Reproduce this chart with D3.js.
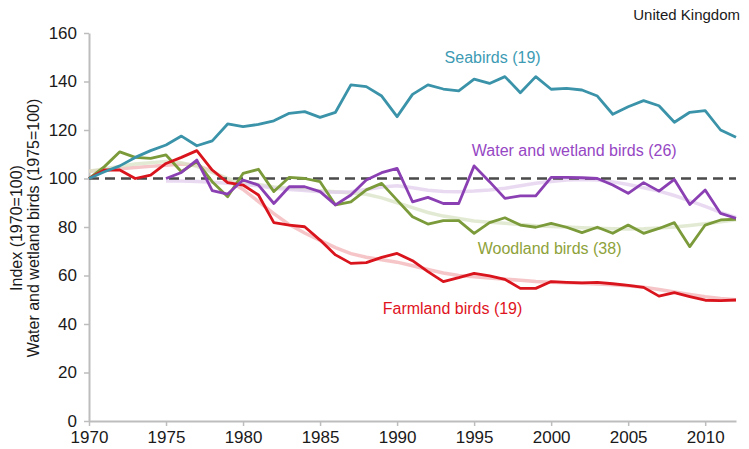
<!DOCTYPE html>
<html><head><meta charset="utf-8">
<script src="https://cdn.jsdelivr.net/npm/d3@7"></script>
<style>body{margin:0;background:#fff;font-family:"Liberation Sans",Arial,sans-serif}</style>
</head><body>
<svg id="c" width="749" height="449"></svg>
<script>
const years = d3.range(1970, 2013);
const seabirds = [100,102.8,105.2,108.7,111.5,113.8,117.5,113.5,115.5,122.5,121.4,122.3,123.8,126.9,127.6,125.2,127.3,138.6,137.9,134,125.5,134.7,138.6,136.9,136.1,141,139.2,142,135.4,142,136.8,137.2,136.5,134,126.5,129.6,132.1,130,123.2,127.3,128,120,117];
const farmland = [100,103.5,103.5,100,101.4,106.2,108.7,111.5,103.5,98.3,97.3,93.2,81.8,80.8,80.1,74.6,68.5,65,65.3,67.5,69.1,66.1,61.6,57.5,59.1,60.9,59.8,58.4,54.7,54.7,57.5,57.2,57,57.2,56.6,55.9,55.1,51.5,52.9,51.3,49.8,49.6,49.9];
const woodland = [100,104.9,111,108.7,108.3,109.7,102.8,107,98.7,92.5,102.1,103.8,94.6,100.5,100,98.7,89.1,90.4,95.3,98,91.1,84.2,81.2,82.6,82.6,77.4,81.8,83.8,80.8,79.9,81.5,79.9,77.7,79.9,77.4,80.8,77.4,79.4,81.8,71.9,80.8,82.9,83.2];
const wetland = [null,null,null,null,null,100,102.5,107.6,95,93.6,99.4,97.3,89.7,96.6,96.6,94.6,89.1,93.2,99.4,102.4,104.2,90.4,92.2,89.7,89.7,105.2,98.7,91.8,92.8,92.8,100.5,100.5,100.3,100,97.3,93.9,98.3,94.8,99.6,89.3,95.3,85.6,83.6];
const farmlandTrend = [103,103.5,104,104.5,105,105.5,106,105.5,103,99.5,95.5,90.5,85.5,81,77.5,74.5,71.5,69,67.5,66.5,65.5,64,62.5,61,60,59.5,59,58.5,58,57.5,57.2,57,56.8,56.5,56.2,55.8,55.2,54.2,53.2,52.2,51.2,50.5,50];
const woodlandTrend = [103,104,105,106,106.5,107,106.5,105,102.5,100,98.5,97.5,96.5,96,95.5,95,94.5,94,93.5,92,90,88,86,84.5,83.5,82.5,82,81.5,81,80.5,80.2,80,79.7,79.5,79.3,79.2,79.3,79.6,80,80.6,81.3,82.2,83];
const wetlandTrend = [null,null,null,null,null,99,99,98.8,98.5,98,97.5,97,96,95.5,95,94.5,94.3,94.5,95.5,96.5,97,96.2,95.2,94.6,94.5,94.8,95.3,96,97,98,98.8,99.4,99.6,99.4,98.6,97.5,96.2,94.8,93,90.8,88.5,86,84];
const yTicks = [0,20,40,60,80,100,120,140,160];
const xTicks = [1970,1975,1980,1985,1990,1995,2000,2005,2010];
const labels = [
  {text:"Seabirds (19)", year:1996.2, value:147.8, color:"#3d9bb4"},
  {text:"Water and wetland birds (26)", year:2001.5, value:109.3, color:"#9647c4"},
  {text:"Woodland birds (38)", year:1999.9, value:69.0, color:"#8ea23a"},
  {text:"Farmland birds (19)", year:1993.6, value:44.3, color:"#e0141e"}
];

const svg = d3.select("#c");
const x = d3.scaleLinear().domain([1970, 2012]).range([89, 736]);
const y = d3.scaleLinear().domain([0, 160]).range([421, 33]);

// axes
const xAxis = svg.append("g").attr("transform","translate(0,421)")
  .call(d3.axisBottom(x).tickValues(xTicks).tickFormat(d3.format("d")).tickSize(5).tickSizeOuter(0));
const yAxis = svg.append("g").attr("transform","translate(89,0)")
  .call(d3.axisLeft(y).tickValues(yTicks).tickSize(5).tickSizeOuter(0));
[xAxis,yAxis].forEach(g=>{
  g.select(".domain").attr("stroke","#bdbdbd").attr("stroke-width",2);
  g.selectAll(".tick line").attr("stroke","#bdbdbd").attr("stroke-width",1.5);
  g.selectAll(".tick text").attr("fill","#1a1a1a").style("font-size","17px").style("font-family","Liberation Sans, Arial, sans-serif");
});
xAxis.selectAll(".tick text").attr("dy","0.95em").attr("y",6);
yAxis.selectAll(".tick text").attr("x",-12);

const line = d3.line().defined(d=>d[1]!=null).x(d=>x(d[0])).y(d=>y(d[1]));
const pts = arr => years.map((yr,i)=>[yr, arr[i]]);

// trend lines
[[farmlandTrend,"#f2b2b5"],[woodlandTrend,"#d8e3c4"],[wetlandTrend,"#e2cdee"]].forEach(([a,c])=>{
  svg.append("path").attr("d", line(pts(a))).attr("fill","none").attr("stroke",c).attr("stroke-width",3.5).attr("opacity",0.75);
});

// reference line
svg.append("line").attr("x1",x(1970)).attr("x2",x(2012)).attr("y1",y(100)).attr("y2",y(100))
  .attr("stroke","#4a4a4a").attr("stroke-width",2.5).attr("stroke-dasharray","10,6");

[[woodland,"#7b9a3a"],[farmland,"#d9141c"],[wetland,"#8a3fb2"],[seabirds,"#3a93a9"]].forEach(([a,c])=>{
  svg.append("path").attr("d", line(pts(a))).attr("fill","none").attr("stroke",c).attr("stroke-width",2.8).attr("stroke-linejoin","round");
});

labels.forEach(l=>{
  svg.append("text").attr("x",x(l.year)).attr("y",y(l.value)).attr("text-anchor","middle")
    .attr("fill",l.color).style("font-size","16px").text(l.text);
});

svg.append("text").attr("x",740).attr("y",20).attr("text-anchor","end").attr("fill","#1a1a1a")
  .style("font-size","15px").text("United Kingdom");

const yl = svg.append("g").attr("transform","translate(0,228) rotate(-90)");
yl.append("text").attr("x",0).attr("y",22).attr("text-anchor","middle").attr("fill","#1a1a1a").style("font-size","16px").text("Index (1970=100)");
yl.append("text").attr("x",0).attr("y",39).attr("text-anchor","middle").attr("fill","#1a1a1a").style("font-size","16px").text("Water and wetland birds (1975=100)");
</script>
</body></html>
